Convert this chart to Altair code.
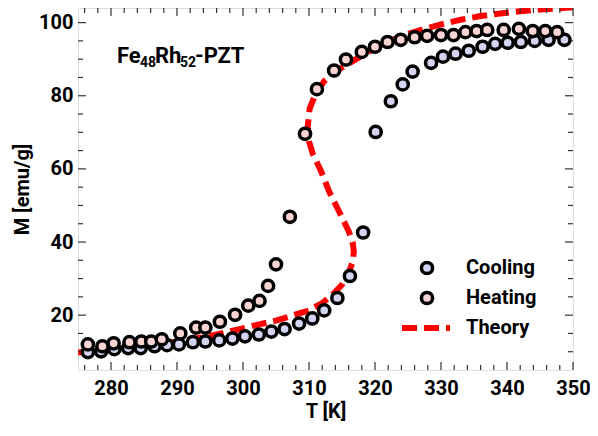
import altair as alt
import pandas as pd

# ---- data ----
heat_T = [276.5, 278.7, 280.4, 282.8, 284.6, 286.1, 287.7, 290.5, 292.9, 294.3, 296.5, 298.8,
          300.8, 302.5, 303.8, 305.0, 307.1, 309.4, 311.2, 313.8, 315.6, 318.0, 320.0, 321.9,
          323.9, 326.0, 327.9, 330.0, 331.9, 333.7, 335.4, 337.0, 339.5, 341.8, 343.9, 345.8, 347.6]
heat_M = [12.0, 11.5, 12.3, 12.6, 12.8, 12.8, 13.4, 15.0, 16.6, 16.6, 18.2, 20.1,
          22.6, 23.9, 28.0, 33.9, 46.9, 69.6, 81.8, 86.9, 89.9, 92.0, 93.4, 94.7,
          95.3, 96.0, 96.4, 96.6, 96.6, 97.4, 97.7, 98.0, 98.0, 98.3, 97.7, 97.7, 97.4]

cool_T = [276.5, 278.5, 280.5, 282.6, 284.5, 286.6, 288.5, 290.3, 292.4, 294.3, 296.4, 298.4,
          300.3, 302.4, 304.3, 306.3, 308.5, 310.5, 312.3, 314.3, 316.2, 318.2, 320.1, 322.4,
          324.2, 325.7, 328.5, 330.3, 332.2, 334.2, 336.3, 338.2, 340.1, 342.1, 344.2, 346.3, 348.7]
cool_M = [9.9, 10.1, 10.7, 11.0, 11.0, 11.5, 11.8, 12.0, 12.6, 12.8, 13.1, 13.6,
          14.2, 14.7, 15.5, 16.2, 17.7, 19.1, 21.3, 24.7, 30.7, 42.6, 70.1, 78.5,
          83.1, 86.6, 89.0, 90.7, 91.5, 92.3, 93.4, 94.2, 94.5, 94.7, 95.0, 95.3, 95.3]

theory_T = [275, 280, 285, 290, 295, 300, 302.5, 305, 307.5, 310, 312, 313.5, 315, 316.0,
            316.6, 316.8, 316.6, 316.0, 314.6, 313.1, 311.8, 310.6, 310.0, 309.8, 310.1,
            311.0, 312.3, 313.9, 316.0, 318.5, 321, 324, 327, 330, 333, 336, 339, 342,
            345, 348, 350]
theory_M = [9.8, 10.6, 11.6, 12.7, 14.3, 16.4, 17.5, 18.5, 19.9, 21.3, 23.3, 25.5, 28.3, 31.5,
            34.5, 37.5, 40.0, 43.0, 48.2, 53.6, 59.5, 64.0, 67.5, 71.5, 76.5,
            80.5, 84.0, 86.5, 88.8, 91.5, 94.0, 96.3, 98.0, 99.5, 100.8, 101.8, 102.5, 103.1,
            103.6, 103.9, 104.2]

x_major = [280, 290, 300, 310, 320, 330, 340, 350]
x_minor = [t for t in range(276, 350, 2) if t % 10 != 0]
y_major = [20, 40, 60, 80, 100]
y_minor = [10, 15, 25, 30, 35, 45, 50, 55, 65, 70, 75, 85, 90, 95]

legend_labels = ["Cooling", "Heating", "Theory"]
ann_parts = ["Fe", "48", "Rh", "52", "-PZT"]

# ---- styling ----
W, H = 495, 362
FONT = "Roboto"
PINK = "#fad3d3"
LAV = "#d3d3f2"
RED = "#ff0000"
MAJ, MIN = 8, 5

xs = alt.Scale(domain=[275, 350], nice=False, zero=False)
ys = alt.Scale(domain=[5, 104], nice=False, zero=False)

heat = pd.DataFrame({"T": heat_T, "M": heat_M})
cool = pd.DataFrame({"T": cool_T, "M": cool_M})
theory = pd.DataFrame({"T": theory_T, "M": theory_M, "i": list(range(len(theory_T)))})

xaxis = alt.Axis(values=x_major, format="d", title="T [K]", grid=False, ticks=False, domain=False,
                 labelFlush=False, labelOverlap=False,
                 labelFont=FONT, labelFontSize=20, labelFontWeight="bold", labelPadding=8,
                 titleFont=FONT, titleFontSize=20, titleFontWeight="bold", titlePadding=3,
                 labelColor="black", titleColor="black")
yaxis = alt.Axis(values=y_major, format="d", title="M [emu/g]", grid=False, ticks=False, domain=False,
                 labelFlush=False,
                 labelFont=FONT, labelFontSize=20, labelFontWeight="bold", labelPadding=5,
                 titleFont=FONT, titleFontSize=20, titleFontWeight="bold", titlePadding=6,
                 labelColor="black", titleColor="black")

line = alt.Chart(theory).mark_line(color=RED, strokeWidth=6, strokeDash=[15, 7], clip=True,
                                   strokeCap="butt").encode(
    x=alt.X("T:Q", scale=xs, axis=xaxis),
    y=alt.Y("M:Q", scale=ys, axis=yaxis),
    order="i:Q")

def pts(df, fill):
    return alt.Chart(df).mark_point(shape="circle", filled=True, fill=fill, stroke="black",
                                    strokeWidth=3.5, size=125, opacity=1).encode(
        x=alt.X("T:Q", scale=xs), y=alt.Y("M:Q", scale=ys))

cool_l = pts(cool, LAV)
heat_l = pts(heat, PINK)

def xticks(vals, ln):
    d = pd.DataFrame({"T": vals})
    b = alt.Chart(d).mark_rule(color="#333", strokeWidth=1.2).encode(
        x=alt.X("T:Q", scale=xs), y=alt.value(H), y2=alt.value(H - ln))
    t = alt.Chart(d).mark_rule(color="#333", strokeWidth=1.2).encode(
        x=alt.X("T:Q", scale=xs), y=alt.value(0), y2=alt.value(ln))
    return [b, t]

def yticks(vals, ln):
    d = pd.DataFrame({"M": vals})
    l = alt.Chart(d).mark_rule(color="#333", strokeWidth=1.2).encode(
        y=alt.Y("M:Q", scale=ys), x=alt.value(0), x2=alt.value(ln))
    r = alt.Chart(d).mark_rule(color="#333", strokeWidth=1.2).encode(
        y=alt.Y("M:Q", scale=ys), x=alt.value(W), x2=alt.value(W - ln))
    return [l, r]

ticks = xticks(x_major, MAJ) + xticks(x_minor, MIN) + yticks(y_major, MAJ) + yticks(y_minor, MIN)

one = pd.DataFrame({"k": [0]})

# ---- legend ----
def leg_pt(fill, yp):
    return alt.Chart(one).mark_point(shape="circle", filled=True, fill=fill, stroke="black",
                                     strokeWidth=3.5, size=125, opacity=1).encode(
        x=alt.value(349), y=alt.value(yp))

def txt(s, xp, yp, fs, baseline="middle"):
    return alt.Chart(one).mark_text(text=s, font=FONT, fontSize=fs, fontWeight="bold", align="left",
                                    baseline=baseline, color="black").encode(
        x=alt.value(xp), y=alt.value(yp))

leg_t = alt.Chart(one).mark_rule(color=RED, strokeWidth=6, strokeDash=[15, 7]).encode(
    x=alt.value(324), x2=alt.value(372), y=alt.value(320))
legend = [leg_t, leg_pt(LAV, 260), leg_pt(PINK, 290),
          txt(legend_labels[0], 388, 260, 20), txt(legend_labels[1], 388, 290, 20),
          txt(legend_labels[2], 388, 320, 20)]

# ---- annotation Fe48Rh52-PZT ----
ann = [txt(ann_parts[0], 39, 55, 22, "alphabetic"), txt(ann_parts[1], 62, 59, 14, "alphabetic"),
       txt(ann_parts[2], 77, 55, 22, "alphabetic"), txt(ann_parts[3], 102, 59, 14, "alphabetic"),
       txt(ann_parts[4], 117, 55, 22, "alphabetic")]

chart = alt.layer(line, *ticks, cool_l, heat_l, *legend, *ann).properties(
    width=W, height=H, autosize=alt.AutoSizeParams(type="none"),
    padding={"left": 70, "top": 0, "right": 17, "bottom": 52}
).configure_view(stroke="#555", strokeWidth=2).configure(background="white")

chart.save("out.html", embed_options={"renderer": "svg", "actions": False})
